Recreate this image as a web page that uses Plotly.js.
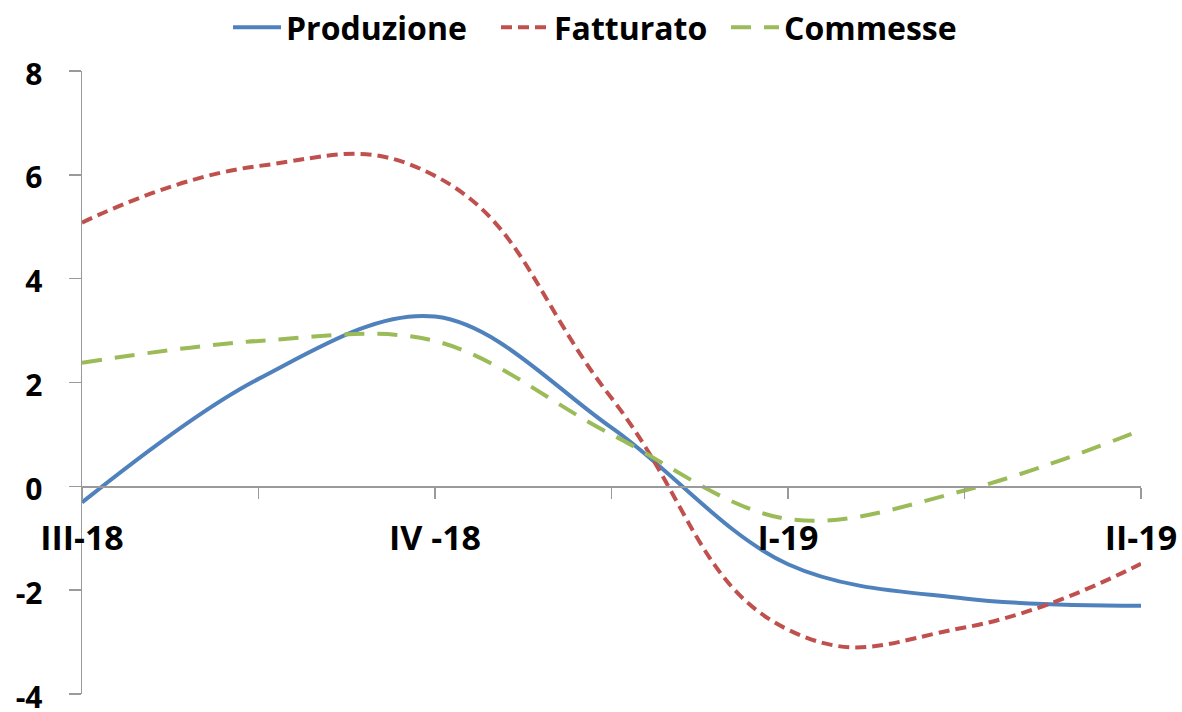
<!DOCTYPE html>
<html>
<head>
<meta charset="utf-8">
<script src="https://cdn.plot.ly/plotly-3.0.1.min.js"></script>
<style>html,body{margin:0;padding:0;background:#fff;}#chart{width:1182px;height:712px;}</style>
</head>
<body>
<div id="chart"></div>
<script>
// Categories (blank slots carry tick marks without labels)
var categories = ['III-18', ' ', 'IV -18', '  ', 'I-19', '   ', 'II-19'];
var produzione = [-0.31, 2.07, 3.27, 1.13, -1.50, -2.16, -2.30];
var fatturato  = [5.08, 6.17, 5.98, 1.70, -2.76, -2.72, -1.49];
var commesse   = [2.38, 2.80, 2.80, 1.00, -0.63, -0.08, 1.08];
var yTicks = [-4, -2, 0, 2, 4, 6, 8];
var yTickText = ['-4', '-2', '0', '2', '4', '6', '8'];

var FONT = 'Open Sans, Lato, sans-serif';
var AXIS = '#9a9a9a';
var W = 1182;

function legendAt(px) {
  return {orientation: 'h', xref: 'container', yref: 'container', x: px / W, xanchor: 'left',
          y: 1, yanchor: 'top', font: {family: FONT, size: 32, color: '#000', weight: 700},
          itemwidth: 48, bgcolor: 'rgba(0,0,0,0)', borderwidth: 0};
}

var traces = [
  {x: categories, y: produzione, name: 'Produzione', type: 'scatter', mode: 'lines', legend: 'legend',
   line: {color: '#4F81BD', width: 4, shape: 'spline', smoothing: 1}},
  {x: categories, y: fatturato, name: 'Fatturato', type: 'scatter', mode: 'lines', legend: 'legend2',
   line: {color: '#C0504D', width: 4, shape: 'spline', smoothing: 1.3, dash: '11px,6px'}},
  {x: categories, y: commesse, name: 'Commesse', type: 'scatter', mode: 'lines', legend: 'legend3',
   line: {color: '#9BBB59', width: 4, shape: 'spline', smoothing: 1, dash: '20px,13px'}}
];

var layout = {
  width: 1182, height: 712,
  margin: {l: 82, r: 41, t: 71, b: 18},
  paper_bgcolor: '#fff', plot_bgcolor: '#fff',
  showlegend: true,
  legend: legendAt(228),
  legend2: legendAt(496),
  legend3: legendAt(726),
  xaxis: {type: 'category', categoryorder: 'array', categoryarray: categories,
          range: [0, 6], anchor: 'free', position: 1/3,
          showline: true, linecolor: AXIS, linewidth: 1.5, showgrid: false, zeroline: false,
          ticks: 'outside', ticklen: 11, tickcolor: AXIS, tickwidth: 1.5,
          ticklabelstandoff: 10, ticklabeloverflow: 'allow',
          tickfont: {family: FONT, size: 34, color: '#000', weight: 700}},
  xaxis2: {overlaying: 'x', type: 'linear', range: [0, 6], dtick: 1, tick0: 0,
           anchor: 'free', position: 1/3, showline: false, showgrid: false, zeroline: false,
           ticks: 'inside', ticklen: 11, tickcolor: AXIS, tickwidth: 1.5, showticklabels: false},
  yaxis: {range: [-4, 8], tickmode: 'array', tickvals: yTicks, ticktext: yTickText,
          showline: true, linecolor: AXIS, linewidth: 1.5,
          showgrid: false, zeroline: false,
          ticks: 'outside', ticklen: 12, tickcolor: AXIS, tickwidth: 1.5,
          ticklabelstandoff: 20, ticklabelshift: 3, ticklabeloverflow: 'allow',
          tickfont: {family: FONT, size: 30, color: '#000', weight: 700}},
  yaxis2: {overlaying: 'y', range: [-4, 8], tickmode: 'array', tickvals: yTicks, anchor: 'x', side: 'left',
           showline: false, showgrid: false, zeroline: false,
           ticks: 'inside', ticklen: 12, tickcolor: AXIS, tickwidth: 1.5, showticklabels: false}
};

Plotly.newPlot('chart', traces, layout, {displayModeBar: false, staticPlot: true});
</script>
</body>
</html>
